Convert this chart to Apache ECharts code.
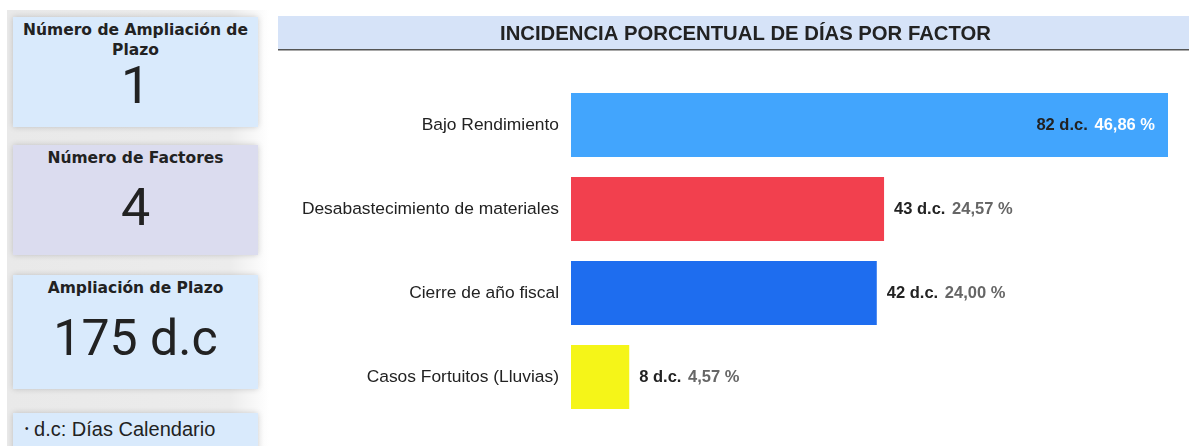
<!DOCTYPE html>
<html>
<head>
<meta charset="utf-8">
<script src="https://cdn.jsdelivr.net/npm/echarts@6/dist/echarts.min.js"></script>
<style>
  html, body { margin: 0; padding: 0; background: #fff; }
  #wrap { position: relative; width: 1189px; height: 446px; overflow: hidden; }
  #side {
    position: absolute; left: 7px; top: 10px; width: 262px; height: 440px;
    background: linear-gradient(to right, #e9e9e9 0%, #ececec 85%, #ffffff 100%);
  }
  .card {
    position: absolute; left: 13px; width: 245px;
    background: #d9eafc; box-shadow: 0 0 6px rgba(0,0,0,0.18);
    text-align: center; color: #222;
  }
  .card .t {
    font-family: Verdana, "DejaVu Sans", sans-serif; font-weight: bold; font-size: 15.5px;
    line-height: 20px; padding: 3px 4px 0 4px;
  }
  .card .v { font-family: Roboto, sans-serif; color: #222; }
  #chart { position: absolute; left: 270px; top: 0; width: 919px; height: 446px; }
</style>
</head>
<body>
<div id="wrap">
  <div id="side"></div>
  <div class="card" style="top:17px;height:110px;">
    <div class="t">Número de Ampliación de Plazo</div>
    <div class="v" style="font-size:52px;line-height:54px;margin-top:-1px;">1</div>
  </div>
  <div class="card" style="top:145px;height:110px;background:#dbdcef;">
    <div class="t">Número de Factores</div>
    <div class="v" style="font-size:52px;line-height:80px;">4</div>
  </div>
  <div class="card" style="top:275px;height:114px;">
    <div class="t">Ampliación de Plazo</div>
    <div class="v" style="font-size:50px;line-height:80px;">175 d.c</div>
  </div>
  <div class="card" style="top:413px;height:40px;text-align:left;">
    <div style="font:20px 'Liberation Sans', Arial, sans-serif;padding:5px 0 0 12px;color:#222;"><span style="font-size:10px;vertical-align:4px;">•</span> d.c: Días Calendario</div>
  </div>
  <div id="chart"></div>
</div>
<script>
const factores = ['Bajo Rendimiento', 'Desabastecimiento de materiales', 'Cierre de año fiscal', 'Casos Fortuitos (Lluvias)'];
const dias = [82, 43, 42, 8];
const porcentajes = ['46,86', '24,57', '24,00', '4,57'];
const colores = ['#42a5fd', '#f2404e', '#1e6def', '#f5f518'];

const chart = echarts.init(document.getElementById('chart'));

const data = dias.map((v, i) => ({
  value: v,
  itemStyle: { color: colores[i] },
  label: i === 0
    ? { position: 'insideRight', distance: 13, rich: { p: { color: '#fff', fontWeight: 'bold', fontSize: 16.5 } } }
    : { position: 'right', distance: 10 }
}));

chart.setOption({
  animation: false,
  title: {
    text: 'INCIDENCIA PORCENTUAL DE DÍAS POR FACTOR',
    left: 225,
    top: 19,
    textStyle: { fontFamily: '"Liberation Sans Narrow", "Liberation Sans", Arial', fontWeight: 'bold', fontSize: 20.3, color: '#222' }
  },
  graphic: [
    { type: 'rect', left: 8, top: 16, shape: { width: 911, height: 33 }, style: { fill: '#d6e3f8' }, z: -1 },
    { type: 'rect', left: 8, top: 49, shape: { width: 911, height: 1.5 }, style: { fill: '#555' }, z: -1 }
  ],
  grid: { left: 301, right: 21, top: 83, bottom: 27 },
  xAxis: { type: 'value', min: 0, max: 82, show: false },
  yAxis: {
    type: 'category',
    data: factores,
    inverse: true,
    axisLine: { show: false },
    axisTick: { show: false },
    axisLabel: { color: '#222', fontSize: 17.4, margin: 12, fontFamily: '"Liberation Sans", Arial' }
  },
  series: [{
    type: 'bar',
    barWidth: 64,
    data: data,
    label: {
      show: true,
      fontFamily: '"Liberation Sans", Arial',
      formatter: p => '{d|' + p.value + ' d.c.}\u00a0\u00a0{p|' + porcentajes[p.dataIndex] + ' %}',
      rich: {
        d: { color: '#222', fontWeight: 'bold', fontSize: 16.5 },
        p: { color: '#666', fontWeight: 'bold', fontSize: 16.5 }
      }
    }
  }]
});
</script>
</body>
</html>
